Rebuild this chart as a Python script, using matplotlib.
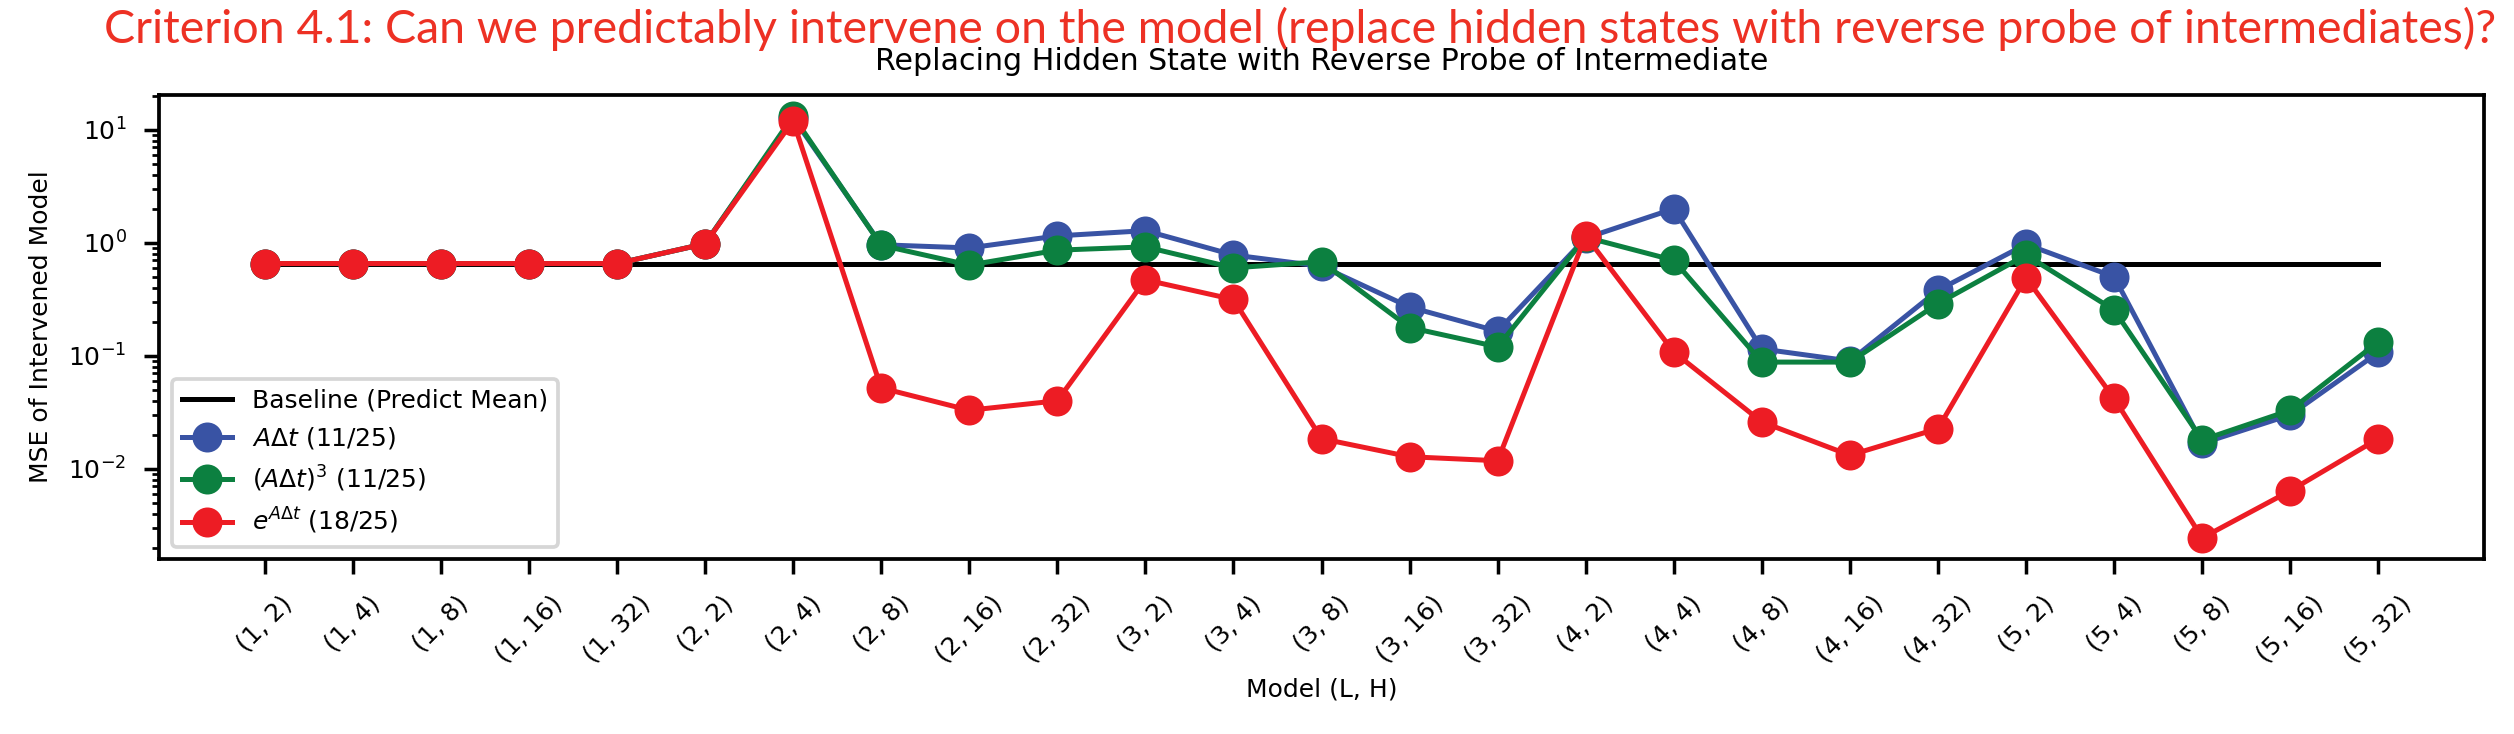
# MSE after swapping the hidden state for the reverse probe of each intermediate
import numpy as np
import matplotlib.pyplot as plt

# Models (L, H)
models = ['(1, 2)', '(1, 4)', '(1, 8)', '(1, 16)', '(1, 32)',
          '(2, 2)', '(2, 4)', '(2, 8)', '(2, 16)', '(2, 32)',
          '(3, 2)', '(3, 4)', '(3, 8)', '(3, 16)', '(3, 32)',
          '(4, 2)', '(4, 4)', '(4, 8)', '(4, 16)', '(4, 32)',
          '(5, 2)', '(5, 4)', '(5, 8)', '(5, 16)', '(5, 32)']

baseline = 0.655  # predict-the-mean MSE

a_dt = [0.655, 0.655, 0.655, 0.655, 0.655,
        0.98, 12.8, 0.96, 0.90, 1.15,
        1.28, 0.78, 0.62, 0.27, 0.165,
        1.10, 2.0, 0.115, 0.09, 0.38,
        0.97, 0.50, 0.0168, 0.030, 0.107]

a_dt_cubed = [0.655, 0.655, 0.655, 0.655, 0.655,
              0.98, 13.2, 0.95, 0.635, 0.86,
              0.92, 0.60, 0.68, 0.178, 0.12,
              1.12, 0.70, 0.088, 0.088, 0.29,
              0.78, 0.254, 0.018, 0.033, 0.133]

exp_a_dt = [0.655, 0.655, 0.655, 0.655, 0.655,
            0.98, 12.0, 0.052, 0.033, 0.040,
            0.47, 0.315, 0.0185, 0.0128, 0.0118,
            1.15, 0.108, 0.026, 0.0132, 0.0227,
            0.49, 0.042, 0.00245, 0.0064, 0.0185]

x = np.arange(len(models))

fig = plt.figure(figsize=(2514 / 180, 734 / 180), dpi=180)
ax = fig.add_axes([159 / 2514, 1 - 559 / 734, (2484 - 159) / 2514, (559 - 95) / 734])

ax.plot(x, [baseline] * len(x), color='black', lw=2, label='Baseline (Predict Mean)')
ax.plot(x, a_dt, '-o', color='#3953A4', lw=2, ms=11, label=r'$A\Delta t$ (11/25)')
ax.plot(x, a_dt_cubed, '-o', color='#0C8040', lw=2, ms=11, label=r'$(A\Delta t)^3$ (11/25)')
ax.plot(x, exp_a_dt, '-o', color='#ED1C24', lw=2, ms=11, label=r'$e^{A\Delta t}$ (18/25)')

ax.set_yscale('log')
ax.set_xticks(x)
ax.set_xticklabels(models, rotation=45)
ax.set_xlabel('Model (L, H)')
ax.set_ylabel('MSE of Intervened Model', labelpad=6)
ax.set_title('Replacing Hidden State with Reverse Probe of Intermediate', pad=10)

for s in ax.spines.values():
    s.set_linewidth(1.5)
ax.tick_params(which='major', length=6, width=1.4, pad=7)
ax.tick_params(which='minor', length=3, width=1.1)

leg = ax.legend(loc='lower left')
leg.get_frame().set_linewidth(1.5)

# red slide title on top
title = fig.text(1300 / 2514, 1 - 43 / 734,
                 'Criterion 4.1: Can we predictably intervene on the model '
                 '(replace hidden states with reverse probe of intermediates)?',
                 ha='center', va='baseline', color='#ED3124', fontsize=20,
                 family=['Lato', 'Open Sans', 'DejaVu Sans'])
fig.canvas.draw()
w = title.get_window_extent(fig.canvas.get_renderer()).width
title.set_fontsize(20 * 2395 / w)

fig.savefig('out.png', dpi=180)
